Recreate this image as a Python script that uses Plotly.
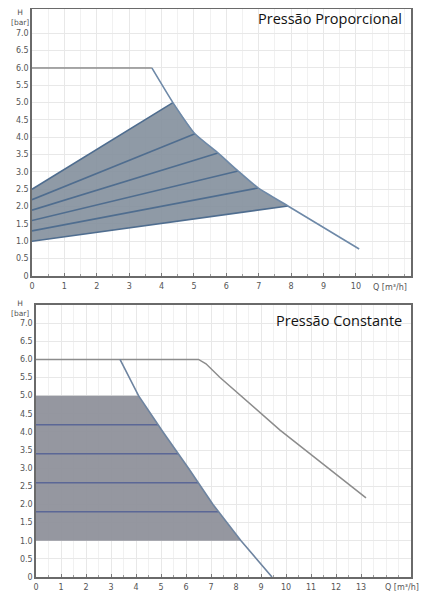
import numpy as np
import plotly.graph_objects as go
from plotly.subplots import make_subplots

# ---- Top chart: Pressão Proporcional ----
top_max_q = [0, 3.7, 4.35, 5.03, 5.74, 6.36, 6.98, 7.9, 10.1]
top_max_h = [6.0, 6.0, 5.0, 4.1, 3.55, 3.03, 2.54, 2.02, 0.78]
prop_start_h = [1.0, 1.3, 1.6, 1.9, 2.2, 2.5]
prop_end_q = [7.9, 6.98, 6.36, 5.74, 5.03, 4.35]
prop_end_h = [2.02, 2.54, 3.03, 3.55, 4.1, 5.0]
top_xticks = [0, 1, 2, 3, 4, 5, 6, 7, 8, 9, 10]

# ---- Bottom chart: Pressão Constante ----
const_max_q = [0, 6.5, 6.8, 7.36, 9.76, 13.2]
const_max_h = [6.0, 6.0, 5.88, 5.5, 4.05, 2.18]
const_edge_q = [3.36, 4.1, 5.08, 6.1, 7.08, 8.2, 9.44]
const_edge_h = [6.0, 5.0, 4.0, 3.0, 2.0, 1.0, 0.0]
const_levels = [1.0, 1.8, 2.6, 3.4, 4.2, 5.0]
bot_xticks = [0, 1, 2, 3, 4, 5, 6, 7, 8, 9, 10, 11, 12, 13]

yticks = [0, 0.5, 1.0, 1.5, 2.0, 2.5, 3.0, 3.5, 4.0, 4.5, 5.0, 5.5, 6.0, 6.5, 7.0]
ytick_text = ["0"] + [f"{v:.1f}" for v in yticks[1:]]

SHADE_TOP = "rgba(128,140,154,0.88)"
SHADE_BOT = "rgba(140,142,152,0.92)"
LINE_IN_TOP = "#4f6d8f"
LINE_IN_BOT = "#5b6796"
GRAY = "#8c8c8c"

fig = make_subplots(rows=2, cols=1)

# top shaded area
i_lo = top_max_q.index(prop_end_q[0])
i_hi = top_max_q.index(prop_end_q[-1])
poly_q = [0] + top_max_q[i_hi:i_lo + 1][::-1] + [0]
poly_h = [prop_start_h[0]] + top_max_h[i_hi:i_lo + 1][::-1] + [prop_start_h[-1]]
fig.add_trace(go.Scatter(x=poly_q, y=poly_h, fill="toself", fillcolor=SHADE_TOP,
                         line=dict(width=0), mode="lines", hoverinfo="skip"), row=1, col=1)
for h0, q1, h1 in zip(prop_start_h, prop_end_q, prop_end_h):
    fig.add_trace(go.Scatter(x=[0, q1], y=[h0, h1], mode="lines",
                             line=dict(color=LINE_IN_TOP, width=1.6)), row=1, col=1)
fig.add_trace(go.Scatter(x=top_max_q[:2], y=top_max_h[:2], mode="lines",
                         line=dict(color=GRAY, width=1.5)), row=1, col=1)
fig.add_trace(go.Scatter(x=top_max_q[1:], y=top_max_h[1:], mode="lines", line_shape="spline",
                         line=dict(color="#6e89a8", width=1.6, smoothing=0.5)), row=1, col=1)

# bottom shaded area
eq_rev = const_edge_q[::-1]
eh_rev = const_edge_h[::-1]
lvl_q = [float(np.interp(h, eh_rev, eq_rev)) for h in const_levels]
sel = [(q, h) for q, h in zip(const_edge_q, const_edge_h) if const_levels[0] <= h <= const_levels[-1]]
poly_q2 = [0, lvl_q[0]] + [q for q, h in sel][::-1] + [lvl_q[-1], 0]
poly_h2 = [const_levels[0], const_levels[0]] + [h for q, h in sel][::-1] + [const_levels[-1], const_levels[-1]]
fig.add_trace(go.Scatter(x=poly_q2, y=poly_h2, fill="toself", fillcolor=SHADE_BOT,
                         line=dict(width=0), mode="lines", hoverinfo="skip"), row=2, col=1)
for h, q in zip(const_levels[1:-1], lvl_q[1:-1]):
    fig.add_trace(go.Scatter(x=[0, q], y=[h, h], mode="lines",
                             line=dict(color=LINE_IN_BOT, width=1.6)), row=2, col=1)
fig.add_trace(go.Scatter(x=const_max_q, y=const_max_h, mode="lines",
                         line=dict(color=GRAY, width=1.5)), row=2, col=1)
fig.add_trace(go.Scatter(x=const_edge_q, y=const_edge_h, mode="lines",
                         line=dict(color="#6e84a0", width=1.6)), row=2, col=1)

W, H = 428, 591
OFF = 8  # page body margin offset


def PX(p):
    return min(1.0, max(0.0, (p - OFF) / W))


def PY(p):
    return min(1.0, max(0.0, 1 - (p - OFF) / H))


def dom_x(a, b):
    return [PX(a), PX(b)]


def dom_y(top, bot):
    return [PY(bot), PY(top)]


tick_font = dict(family="DejaVu Sans", size=8, color="#555")
axis_common = dict(showline=True, linecolor="#6a6a6a", linewidth=1.5, mirror=True,
                   showgrid=True, gridcolor="#e8e8e8", gridwidth=1, zeroline=False,
                   automargin=False, tickfont=tick_font)

fig.update_xaxes(**axis_common, ticks="inside", ticklen=3, tickcolor="#777", ticklabelstandoff=2)
fig.update_yaxes(**axis_common, ticks="", ticklen=0)

xminor = dict(dtick=0.5, showgrid=True, gridcolor="#f1f1f1", ticks="inside", ticklen=2, tickcolor="#999")
fig.update_layout(
    width=W, height=H, margin=dict(l=0, r=0, t=0, b=0),
    paper_bgcolor="white", plot_bgcolor="white", showlegend=False,
    xaxis=dict(domain=dom_x(32, 411), range=[0, 11.7], tickvals=top_xticks, minor=xminor),
    yaxis=dict(domain=dom_y(9, 276), range=[0, 7.7], tickvals=yticks, ticktext=ytick_text),
    xaxis2=dict(domain=dom_x(36, 411), range=[0, 15], tickvals=bot_xticks, minor=xminor),
    yaxis2=dict(domain=dom_y(305, 577), range=[0, 7.5], tickvals=yticks, ticktext=ytick_text),
)

lab_font = dict(family="DejaVu Sans", size=8, color="#555")
ylab_font = dict(family="DejaVu Sans", size=7.5, color="#555")
title_font = dict(family="Open Sans", size=14.5, color="#111")
fig.add_annotation(text="Pressão Proporcional", xref="paper", yref="paper",
                   x=PX(404), y=PY(18), xanchor="right", yanchor="middle",
                   showarrow=False, font=title_font)
fig.add_annotation(text="Pressão Constante", xref="paper", yref="paper",
                   x=PX(404), y=PY(320), xanchor="right", yanchor="middle",
                   showarrow=False, font=title_font)
fig.add_annotation(text="Q [m³/h]", xref="paper", yref="paper", x=PX(390), y=PY(287),
                   xanchor="center", yanchor="middle", showarrow=False, font=lab_font)
fig.add_annotation(text="Q [m³/h]", xref="paper", yref="paper", x=PX(421), y=PY(587),
                   xanchor="right", yanchor="middle", showarrow=False, font=lab_font)
fig.add_annotation(text="H<br>[bar]", xref="paper", yref="paper", x=PX(20), y=PY(17),
                   xanchor="center", yanchor="middle", showarrow=False, font=ylab_font)
fig.add_annotation(text="H<br>[bar]", xref="paper", yref="paper", x=PX(20), y=PY(308),
                   xanchor="center", yanchor="middle", showarrow=False, font=ylab_font)

fig.write_html("out.html")
